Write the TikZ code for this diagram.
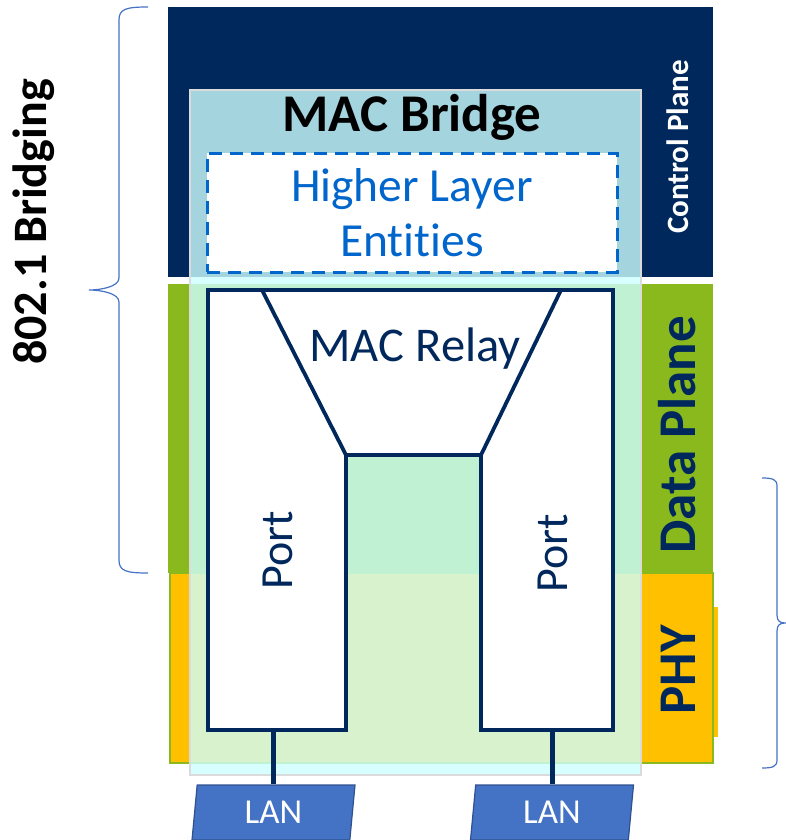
\documentclass[tikz,border=0pt]{standalone}
\usepackage{fontspec}
\setmainfont{Carlito}[Ligatures=NoCommon]
\usetikzlibrary{shapes.geometric}
\definecolor{navy}{RGB}{0,40,92}
\definecolor{dgreen}{RGB}{138,185,30}
\definecolor{yel}{RGB}{255,192,0}
\definecolor{ovl}{RGB}{205,255,255}
\definecolor{hblue}{RGB}{0,102,204}
\definecolor{lanfill}{RGB}{68,114,196}
\definecolor{lanedge}{RGB}{47,82,143}
\definecolor{bracec}{RGB}{68,114,196}
\tikzset{
  portbox/.style={draw=navy, line width=3.8pt, fill=white, inner sep=0pt, minimum width=138pt, minimum height=440pt},
  relay/.style={draw=navy, line width=3.8pt, fill=white, line join=round},
  lanshape/.style={shape=trapezium, trapezium left angle=77, trapezium right angle=103, trapezium stretches body=true,
     minimum width=163pt, minimum height=55pt, fill=lanfill, draw=lanedge, line width=1.2pt, text=white, inner sep=0pt,
     font=\fontsize{35}{40}\selectfont},
  lanline/.style={draw=navy, line width=5pt},
  bracestyle/.style={draw=bracec, line width=1.2pt},
  sidelabel/.style={rotate=90, font=\bfseries\fontsize{53}{60}\selectfont, text=navy, inner sep=0pt},
}
\begin{document}
\begin{tikzpicture}[x=1pt,y=-1pt]
\useasboundingbox (0,0) rectangle (785,840);
% planes
\fill[navy] (168,7) rectangle (713,277);
\fill[dgreen] (168,284) rectangle (713,573);
\fill[yel] (713,607) rectangle (718,737);
\filldraw[fill=yel, draw=dgreen, line width=1.5pt] (170,573) rectangle (713,763);
% MAC bridge overlay
\fill[ovl, fill opacity=0.8] (190,90) rectangle (641,775);
\draw[black!14, line width=1.5pt] (190,90) rectangle (641,775);
% higher layer entities
\node[draw=hblue, fill=white, line width=3pt, dash pattern=on 13pt off 8pt, minimum width=410pt, minimum height=119pt, inner sep=0pt] (hle) at (412,212.5) {};
\node[text=hblue, align=center, font=\fontsize{47.5}{55}\selectfont] (hletxt) at (hle.center) {Higher Layer\\Entities};
\node[font=\bfseries\fontsize{53}{60}\selectfont] (macbridge) at (412,117) {MAC Bridge};
% ports
\node[portbox] (portL) at (277,510) {};
\node[portbox, minimum width=132pt] (portR) at (547,510) {};
\filldraw[relay] (262,290) -- (561,290) -- (481,455) -- (346,455) -- cycle;
\node[text=navy, font=\fontsize{48.5}{55}\selectfont] (relaytxt) at (415,349) {MAC Relay};
\node[rotate=90, text=navy, font=\fontsize{46}{55}\selectfont] (portLtxt) at (278,550) {Port};
\node[rotate=90, text=navy, font=\fontsize{46}{55}\selectfont] (portRtxt) at (553,553) {Port};
% LANs
\node[lanshape] (lanL) at (273.5,812.5) {LAN};
\node[lanshape] (lanR) at (552,812.5) {LAN};
\draw[lanline] (lanL.north) -- (lanL.north |- portL.south);
\draw[lanline] (lanR.north) -- (lanR.north |- portR.south);
% side labels
\node[rotate=90, text=white, font=\bfseries\fontsize{31}{36}\selectfont, inner sep=0pt] (cp) at (678,147) {Control Plane};
\node[sidelabel] (dp) at (677,435) {Data Plane};
\node[sidelabel] (phy) at (678,670) {PHY};
\node[rotate=90, font=\bfseries\fontsize{48}{55}\selectfont, inner sep=0pt] (bridging) at (34,222) {802.1 Bridging};
% braces
\draw[bracestyle] (148,7) .. controls (126,7) and (119,9) .. (119,20) -- (119,278)
   .. controls (119,287) and (100,290) .. (89,290)
   .. controls (100,290) and (119,293) .. (119,302) -- (119,560)
   .. controls (119,571) and (126,573) .. (148,573);
\draw[bracestyle] (762,478) .. controls (772,478) and (777,479) .. (777,486) -- (777,615)
   .. controls (777,621) and (780,623) .. (785,623)
   .. controls (780,623) and (777,625) .. (777,631) -- (777,760)
   .. controls (777,767) and (772,768) .. (762,768);
\end{tikzpicture}
\end{document}
